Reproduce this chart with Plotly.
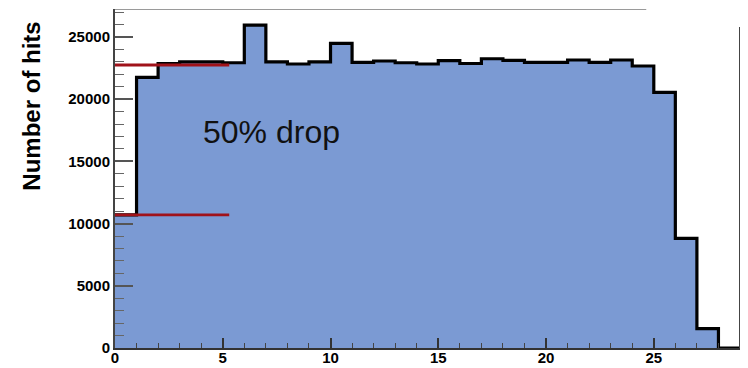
import plotly.graph_objects as go

# Hits per bin (bins of width 1, from 0 to 29)
bin_edges = list(range(0, 30))
hits = [10700, 21750, 22870, 23000, 23000, 22930, 25950, 23000, 22830, 23000,
        24480, 22960, 23070, 22930, 22830, 23100, 22870, 23250, 23120, 22960,
        22960, 23150, 22960, 23150, 22670, 20550, 8820, 1550, 0]

# Reference levels: full plateau and its half
plateau_level = 22750
half_level = 10700
ref_x_end = 5.3

y_top = 27250
x_max = 29

y_tickvals = [0, 5000, 10000, 15000, 20000, 25000]
x_tickvals = [0, 5, 10, 15, 20, 25]

fill_colour = "#7b9ad3"
font_family = "Liberation Sans, Arial, sans-serif"

step_y = hits + [hits[-1]]

fig = go.Figure()
fig.add_trace(go.Scatter(
    x=bin_edges, y=step_y, mode="lines", line_shape="hv",
    line=dict(color="black", width=3.2),
    fill="tozeroy", fillcolor=fill_colour, hoverinfo="skip",
))
for lvl in (plateau_level, half_level):
    fig.add_trace(go.Scatter(
        x=[0, ref_x_end], y=[lvl, lvl], mode="lines",
        line=dict(color="#a0121a", width=2.8), hoverinfo="skip",
    ))

# Frame pieces: top edge and right edge
fig.add_shape(type="line", x0=0, x1=24.65, y0=y_top, y1=y_top,
              line=dict(color="#9a9a9a", width=2), layer="above")
fig.add_shape(type="line", x0=x_max, x1=x_max, y0=0, y1=25800,
              line=dict(color="#444444", width=2), layer="above")

fig.add_annotation(x=7.25, y=17400, text="50% drop", showarrow=False,
                   font=dict(family=font_family, size=32, color="#111111"))
fig.add_annotation(xref="paper", yref="paper", x=0, y=0.712, xshift=-83,
                   xanchor="center", yanchor="middle",
                   text="Number of hits", textangle=-90, showarrow=False,
                   font=dict(family=font_family, size=24, color="black",
                             weight="bold"))

fig.update_layout(
    width=748, height=368,
    margin=dict(l=115, r=8, t=9, b=20),
    paper_bgcolor="white", plot_bgcolor="white",
    showlegend=False,
    font=dict(family=font_family, color="black"),
)
fig.update_xaxes(
    range=[0, x_max], tickvals=x_tickvals, ticktext=[str(v) for v in x_tickvals],
    ticks="inside", ticklen=10, tickwidth=1.5, tickcolor="#333333",
    minor=dict(dtick=1, ticks="inside", ticklen=5, tickwidth=1.2,
               tickcolor="#444444", showgrid=False),
    showline=True, linecolor="#333333", linewidth=2,
    showgrid=False, zeroline=False, automargin=False,
    ticklabelstandoff=-5,
    tickfont=dict(size=15, weight="bold", family=font_family),
)
fig.update_yaxes(
    range=[0, y_top], tickvals=y_tickvals, ticktext=[str(v) for v in y_tickvals],
    ticks="inside", ticklen=18, tickwidth=1.5, tickcolor="#555555",
    minor=dict(dtick=1000, ticks="inside", ticklen=9, tickwidth=1.2,
               tickcolor="#666666", showgrid=False),
    showline=True, linecolor="#444444", linewidth=2,
    showgrid=False, zeroline=False, automargin=False,
    tickfont=dict(size=15, weight="bold", family=font_family),
)

fig.write_html("out.html")
